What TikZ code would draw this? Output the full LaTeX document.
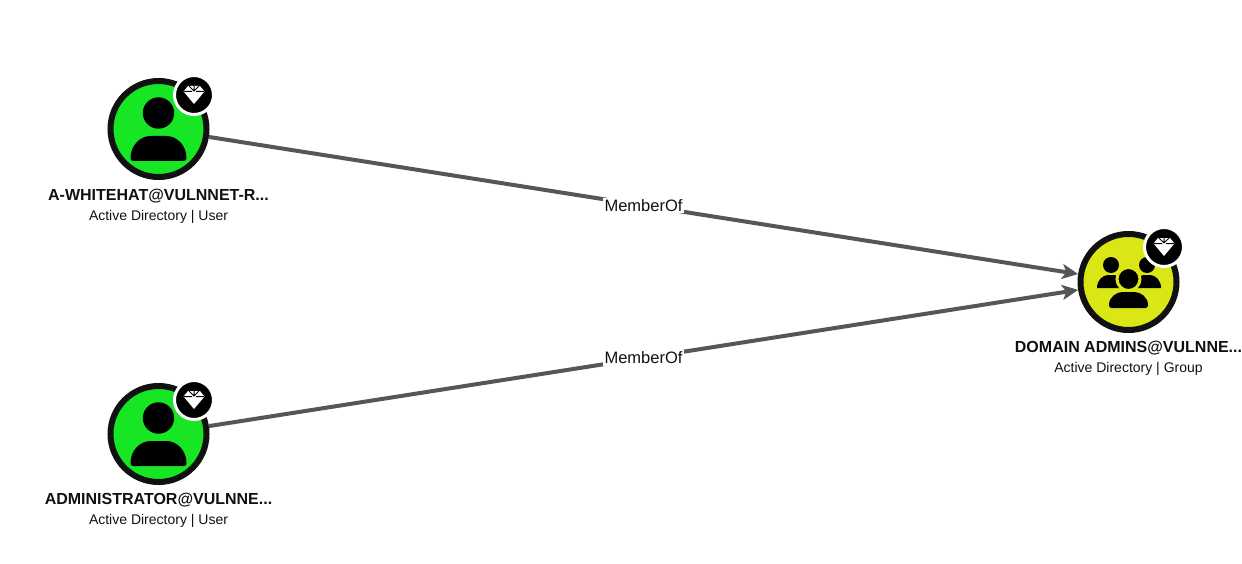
\documentclass[tikz,border=0pt]{standalone}
\usepackage{fontspec}
\setmainfont{Liberation Sans}
\usetikzlibrary{arrows.meta}
\definecolor{usergreen}{HTML}{17E625}
\definecolor{grouplime}{HTML}{DBE617}
\definecolor{edgegray}{HTML}{54575A}
\definecolor{ringblack}{HTML}{111111}
\tikzset{
  entity/.style={circle,draw=ringblack,line width=6pt,minimum size=96pt,inner sep=0pt},
  badge/.style={circle,fill=black,draw=white,line width=3pt,minimum size=39pt,inner sep=0pt},
  title/.style={text=ringblack,font=\bfseries\fontsize{16}{18}\selectfont,inner sep=0pt},
  subtitle/.style={text=ringblack,font=\fontsize{14}{16}\selectfont,inner sep=0pt},
  memberof/.style={line width=4pt,draw=edgegray,-{Stealth[length=16pt,width=15pt,inset=4pt]}},
  edgelabel/.style={fill=white,text=ringblack,font=\fontsize{16.5}{18}\selectfont,inner sep=1.5pt},
  gem/.pic={
    \fill[white] (-6,-9)--(6,-9)--(10.5,-3.5)--(0,9)--(-10.5,-3.5)--cycle;
    \draw[black,line width=1pt] (-5,-9)--(0,-4)--(5,-9) (0,-9)--(0,-4) (-10,-3.5)--(-2,-3.5) (2,-3.5)--(10,-3.5);
  },
  usericon/.pic={
    \fill[black] (0,-16) circle[radius=15.7];
    \fill[black] (-28,29) .. controls (-28,16) and (-18,7) .. (-8,7)
      -- (8,7) .. controls (18,7) and (28,16) .. (28,29)
      .. controls (28,31) and (27,32) .. (25,32) -- (-25,32)
      .. controls (-27,32) and (-28,31) .. (-28,29) -- cycle;
  },
  smallbody/.pic={
    \fill[black] (-14,6) .. controls (-14,-2) and (-8,-7) .. (-3,-7)
      -- (3,-7) .. controls (8,-7) and (14,-2) .. (14,6) -- cycle;
  },
  groupicon/.pic={
    \fill[black] (-17.5,-17) circle[radius=8];
    \fill[black] (18.5,-17) circle[radius=8];
    \pic at (-17.5,0) {smallbody};
    \pic at (18.5,0) {smallbody};
    \fill[black,draw=grouplime,line width=3pt] (0,-3) circle[radius=11.5];
    \fill[black] (-19.5,23) .. controls (-19.5,15) and (-12,10) .. (-6,10)
      -- (6,10) .. controls (12,10) and (19.5,15) .. (19.5,23)
      .. controls (19.5,25) and (18.5,26) .. (17,26) -- (-17,26)
      .. controls (-18.5,26) and (-19.5,25) .. (-19.5,23) -- cycle;
  }
}
\begin{document}
\begin{tikzpicture}[x=1pt,y=-1pt]
  \useasboundingbox (0,0) rectangle (1242,564);
  \node[entity,fill=usergreen] (whitehat) at (158.5,129) {};
  \node[entity,fill=usergreen] (administrator) at (158.5,434) {};
  \node[entity,fill=grouplime] (domainadmins) at (1128.5,282) {};

  \pic at (whitehat) {usericon};
  \pic at (administrator) {usericon};
  \pic at (domainadmins) {groupicon};

  \node[badge] (whitehatbadge) at (194,95) {};
  \node[badge] (administratorbadge) at (194,400) {};
  \node[badge] (domainadminsbadge) at (1164,247) {};
  \pic at (whitehatbadge) {gem};
  \pic at (administratorbadge) {gem};
  \pic at (domainadminsbadge) {gem};

  \draw[memberof] (whitehat) -- (domainadmins) node[pos=0.5,edgelabel] (whitehatedge) {MemberOf};
  \draw[memberof] (administrator) -- (domainadmins) node[pos=0.5,edgelabel] (administratoredge) {MemberOf};

  \node[title] (whitehatname) at (158.5,196.5) {A-WHITEHAT@VULNNET-R...};
  \node[subtitle] (whitehattype) at (158.5,217) {Active Directory | User};
  \node[title] (administratorname) at (158.5,500.5) {ADMINISTRATOR@VULNNE...};
  \node[subtitle] (administratortype) at (158.5,521) {Active Directory | User};
  \node[title] (domainadminsname) at (1128.5,348.5) {DOMAIN ADMINS@VULNNE...};
  \node[subtitle] (domainadminstype) at (1128.5,369) {Active Directory | Group};
\end{tikzpicture}
\end{document}
